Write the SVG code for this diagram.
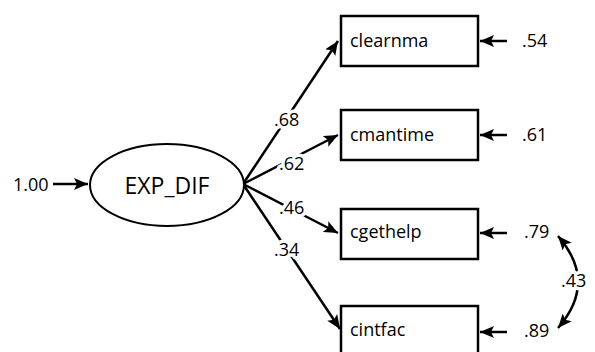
<svg xmlns="http://www.w3.org/2000/svg" width="595" height="352" viewBox="0 0 595 352">
<style>
text{font-family:"Open Sans","Liberation Sans",sans-serif;fill:#000}
.lbl{font-size:18px}
.halo{paint-order:stroke;stroke:#fff;stroke-width:7px;stroke-linejoin:round}
.box{fill:#fff;stroke:#000;stroke-width:2.5}
.edge{fill:none;stroke:#000;stroke-width:2.5}
</style>
<defs>
<marker id="ah" markerUnits="userSpaceOnUse" markerWidth="16" markerHeight="12" refX="14" refY="6" orient="auto-start-reverse">
<path d="M0,0 L14,6 L0,12 L3,6 Z" fill="#000"/>
</marker>
</defs>
<g id="connectors">
<line class="edge" x1="53" y1="184" x2="88" y2="184" marker-end="url(#ah)"/>
<line class="edge" x1="243" y1="184" x2="338" y2="41" marker-end="url(#ah)"/>
<line class="edge" x1="243" y1="184" x2="338" y2="135" marker-end="url(#ah)"/>
<line class="edge" x1="243" y1="184" x2="338" y2="233" marker-end="url(#ah)"/>
<line class="edge" x1="243" y1="184" x2="340" y2="329" marker-end="url(#ah)"/>
<line class="edge" x1="507" y1="41" x2="480" y2="41" marker-end="url(#ah)"/>
<line class="edge" x1="507" y1="135" x2="480" y2="135" marker-end="url(#ah)"/>
<line class="edge" x1="507" y1="233" x2="480" y2="233" marker-end="url(#ah)"/>
<line class="edge" x1="507" y1="332" x2="480" y2="332" marker-end="url(#ah)"/>
<path class="edge" d="M558,236 Q598,282 558,328" marker-start="url(#ah)" marker-end="url(#ah)"/>
<text class="lbl halo" x="274" y="126">.68</text>
<text class="lbl halo" x="279" y="170">.62</text>
<text class="lbl halo" x="279" y="214">.46</text>
<text class="lbl halo" x="274" y="256">.34</text>
<text class="lbl halo" x="561" y="287">.43</text>
</g>
<g id="EXP_DIF">
<ellipse cx="167" cy="185" rx="77" ry="41" fill="#fff" stroke="#000" stroke-width="2"/>
<text x="167" y="194" font-size="23" text-anchor="middle">EXP_DIF</text>
</g>
<g id="e0"><text class="lbl" x="13" y="191">1.00</text></g>
<g id="clearnma">
<rect class="box" x="341" y="16" width="137" height="50"/>
<text class="lbl" x="350" y="47">clearnma</text>
</g>
<g id="cmantime">
<rect class="box" x="341" y="110" width="137" height="50"/>
<text class="lbl" x="350" y="141">cmantime</text>
</g>
<g id="cgethelp">
<rect class="box" x="341" y="209" width="137" height="50"/>
<text class="lbl" x="350" y="238">cgethelp</text>
</g>
<g id="cintfac">
<rect class="box" x="341" y="306" width="137" height="50"/>
<text class="lbl" x="350" y="336">cintfac</text>
</g>
<g id="e1"><text class="lbl" x="522" y="47">.54</text></g>
<g id="e2"><text class="lbl" x="522" y="141">.61</text></g>
<g id="e3"><text class="lbl" x="524" y="238">.79</text></g>
<g id="e4"><text class="lbl" x="524" y="337">.89</text></g>
</svg>
